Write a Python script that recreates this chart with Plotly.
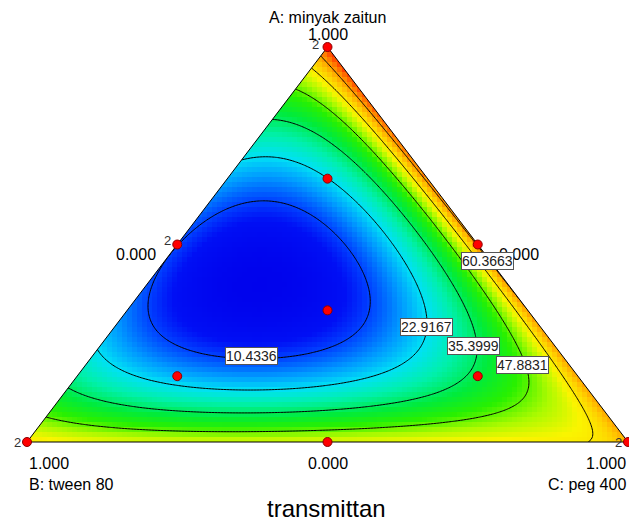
import numpy as np
import plotly.graph_objects as go

# ---------------- data ----------------
# Response (transmittan) read at mixture compositions.
# A = minyak zaitun, C = peg 400, B = tween 80 = 1 - A - C (pseudo components)
fit_A = [1.0, 0.0, 0.0,
         0.056, 0.134, 0.245, 0.35, 0.5, 0.6, 0.70, 0.80, 0.873, 0.94,
         0.145, 0.3, 0.5, 0.75,
         0.0, 0.0, 0.0, 0.0, 0.0,
         0.333, 0.41, 0.667, 0.1667, 0.1667,
         0.215, 0.129, 0.0785, 0.0354,
         0.625, 0.385, 0.233,
         0.291, 0.684, 0.175, 0.149, 0.157, 0.456,
         0.24, 0.747, 0.106, 0.081, 0.094, 0.157, 0.456,
         0.195, 0.739, 0.048, 0.0354, 0.048, 0.106, 0.456,
         0.884, 0.797, 0.456, 0.208, 0.063, 0.01,
         0.797, 0.456]
fit_C = [0.0, 0.0, 1.0,
         0, 0, 0, 0, 0, 0, 0, 0, 0, 0,
         0.855, 0.7, 0.5, 0.25,
         0.25, 0.5, 0.75, 0.85, 0.93,
         0.333, 0.2, 0.1667, 0.1667, 0.667,
         0.391, 0.434, 0.46, 0.481,
         0.141, 0.428, 0.146,
         0.52, 0.159, 0.084, 0.3, 0.52, 0.409,
         0.622, 0.127, 0.1, 0.226, 0.552, 0.647, 0.472,
         0.723, 0.2, 0.131, 0.27, 0.63, 0.762, 0.4955,
         0.073, 0.171, 0.525, 0.783, 0.917, 0.9,
         0.193, 0.536]
fit_y = [82, 58, 67,
         47.88, 35.4, 22.9, 15, 12, 14, 22.9, 35.4, 47.88, 60.37,
         72.85, 77, 80, 82,
         56, 55, 60.37, 61, 63,
         1, -2, 19, 17, 42,
         10.43, 22.9, 35.4, 47.88,
         10.43, 10.43, 10.43,
         22.9, 22.9, 22.9, 22.9, 22.9, 22.9,
         35.4, 35.4, 35.4, 35.4, 35.4, 35.4, 35.4,
         47.88, 47.88, 47.88, 47.88, 47.88, 47.88, 47.88,
         60.37, 60.37, 60.37, 60.37, 60.37, 60.37,
         72.85, 72.85]

# design points (A, B, C) and replicate counts
design_A = [1.0, 0.0, 0.0, 0.5, 0.5, 0.0, 1/3, 2/3, 1/6, 1/6]
design_B = [0.0, 1.0, 0.0, 0.5, 0.0, 0.5, 1/3, 1/6, 2/3, 1/6]
design_C = [0.0, 0.0, 1.0, 0.0, 0.5, 0.5, 1/3, 1/6, 1/6, 2/3]
replicates = [2, 2, 2, 2, 1, 1, 1, 1, 1, 1]

contour_levels = [10.4336, 22.9167, 35.3999, 47.8831, 60.3663, 72.8495]
labelled_levels = [10.4336, 22.9167, 35.3999, 47.8831, 60.3663]
label_A = [0.2177, 0.2911, 0.2430, 0.1949, 0.4582]
label_C = [0.2639, 0.5184, 0.6206, 0.7262, 0.5363]

zmin, zmax = -2.05, 88.0
col_vals = [-2.05, 6, 10.4, 17, 23, 30, 38, 45, 52, 58, 66, 73, 80, 88]
col_rgb = ['rgb(0,0,235)', 'rgb(0,15,245)', 'rgb(0,65,255)', 'rgb(0,155,255)',
           'rgb(0,225,245)', 'rgb(0,240,170)', 'rgb(0,235,60)', 'rgb(40,240,0)',
           'rgb(170,250,0)', 'rgb(250,245,0)', 'rgb(255,200,0)', 'rgb(255,155,0)',
           'rgb(255,110,0)', 'rgb(255,50,0)']

# ---------------- model ----------------
def basis(A, B, C):
    E = np.exp(-B / 0.03)
    return np.stack([A, B, C, A*B, A*C, B*C, A*B*C,
                     A*B*(A-B), A*C*(A-C), B*C*(B-C),
                     A*A*B*C, A*B*B*C, A*B*C*C, E*A, E*C], axis=-1)

fA = np.array(fit_A); fC = np.array(fit_C); fB = 1 - fA - fC
X = basis(fA, fB, fC)
lam = 1e-3
coef = np.linalg.solve(X.T @ X + lam*np.eye(X.shape[1]), X.T @ np.array(fit_y, float))

def surface(xs, ys, ext):
    XX, YY = np.meshgrid(xs, ys)
    A = YY; C = XX - YY/2; B = 1 - A - C
    ok = (A >= -ext) & (B >= -ext) & (C >= -ext)
    Ac, Bc, Cc = np.clip(A, 0, None), np.clip(B, 0, None), np.clip(C, 0, None)
    s = Ac + Bc + Cc
    Ac, Bc, Cc = Ac/s, Bc/s, Cc/s
    Z = basis(Ac, Bc, Cc) @ coef
    Z[~ok] = np.nan
    return Z

def to_xy(A, C):
    A = np.asarray(A, float); C = np.asarray(C, float)
    return C + A/2, A

# ---------------- figure ----------------
fig = go.Figure()

dx, dy = 5/601, 5/395
hx = np.arange(-2*dx, 1+2*dx, dx) + dx/2
hy = np.arange(-2*dy, 1+2*dy, dy) + dy/2
zh = surface(hx, hy, 0.03)
cs = [[(v - zmin)/(zmax - zmin), c] for v, c in zip(col_vals, col_rgb)]
fig.add_trace(go.Heatmap(x=hx, y=hy, z=zh, zmin=zmin, zmax=zmax, colorscale=cs,
                         zsmooth=False, showscale=False, hoverinfo='skip'))

cx = np.arange(-0.02, 1.02, 1.5/601)
cy = np.arange(-0.02, 1.02, 1.5/395)
zc = surface(cx, cy, 0.02)
step = contour_levels[1] - contour_levels[0]
fig.add_trace(go.Contour(x=cx, y=cy, z=zc, showscale=False, hoverinfo='skip',
                         contours=dict(start=contour_levels[0], end=contour_levels[-1],
                                       size=step, coloring='none'),
                         line=dict(color='black', width=1)))

# white mask outside triangle
mx = [0, 0.5, 0.5, -0.1, -0.1, None, 1, 0.5, 0.5, 1.1, 1.1, None, -0.1, 1.1, 1.1, -0.1]
my = [0, 1, 1.12, 1.12, 0, None, 0, 1, 1.12, 1.12, 0, None, 0, 0, -0.1, -0.1]
fig.add_trace(go.Scatter(x=mx, y=my, mode='lines', fill='toself', fillcolor='white',
                         line=dict(width=0, color='white'), hoverinfo='skip'))

# triangle outline
vx, vy = to_xy([0, 1, 0, 0], [0, 0, 1, 0])
fig.add_trace(go.Scatter(x=vx, y=vy, mode='lines', line=dict(color='black', width=1),
                         hoverinfo='skip'))

# design points
px_, py_ = to_xy(design_A, design_C)
fig.add_trace(go.Scatter(x=px_, y=py_, mode='markers', cliponaxis=False,
                         marker=dict(size=9, color='#ff0000',
                                     line=dict(color='#8b0000', width=1))))

font = 'Liberation Sans, Arial, sans-serif'
ann = []
# replicate labels
rep_shift = {0: (-12, 3), 1: (-10, 0), 2: (-10, 0), 3: (-10, 4)}
for i, r in enumerate(replicates):
    if r > 1:
        sx, sy = rep_shift[i]
        ann.append(dict(x=px_[i], y=py_[i], text=str(r), showarrow=False, xanchor='center',
                        yanchor='middle', xshift=sx, yshift=sy,
                        font=dict(family=font, size=13, color='#333333')))

# vertex / axis labels
ax_, ay_ = to_xy([1], [0]); bx_, by_ = to_xy([0], [0]); ccx, ccy = to_xy([0], [1])
ann += [
    dict(x=ax_[0], y=ay_[0], text='A: minyak zaitun', yshift=30, xanchor='center', yanchor='middle'),
    dict(x=ax_[0], y=ay_[0], text='1.000', yshift=13, xanchor='center', yanchor='middle'),
    dict(x=bx_[0], y=by_[0], text='1.000', yshift=-21, xanchor='left', yanchor='middle'),
    dict(x=bx_[0], y=by_[0], text='B: tween 80', yshift=-42, xanchor='left', yanchor='middle'),
    dict(x=ccx[0], y=ccy[0], text='1.000', yshift=-21, xanchor='right', yanchor='middle'),
    dict(x=ccx[0], y=ccy[0], text='C: peg 400', yshift=-42, xanchor='right', yanchor='middle'),
]
mbx, mby = to_xy([0], [0.5]); mlx, mly = to_xy([0.5], [0]); mrx, mry = to_xy([0.5], [0.5])
ann += [
    dict(x=mbx[0], y=mby[0], text='0.000', yshift=-21, xanchor='center', yanchor='middle'),
    dict(x=mlx[0], y=mly[0], text='0.000', xshift=-19, yshift=-10, xanchor='right', yanchor='middle'),
    dict(x=mrx[0], y=mry[0], text='0.000', xshift=19, yshift=-10, xanchor='left', yanchor='middle'),
]
for a in ann[-9:]:
    a['showarrow'] = False
    a['font'] = dict(family=font, size=16, color='#000000')

# contour labels
lx, ly = to_xy(label_A, label_C)
for v, x, y in zip(labelled_levels, lx, ly):
    ann.append(dict(x=x, y=y, text=f'{v:.4f}', showarrow=False, bgcolor='white',
                    bordercolor='#555555', borderwidth=1, borderpad=0,
                    font=dict(family=font, size=14, color='#222222')))

ann.append(dict(x=0.5, y=0.0, xref='paper', yref='paper', text='transmittan',
                showarrow=False, xanchor='center', yanchor='middle', xshift=11.5, yshift=14,
                font=dict(family=font, size=24, color='#000000')))

fig.update_layout(
    width=629, height=522, margin=dict(l=0, r=0, t=0, b=0),
    paper_bgcolor='white', plot_bgcolor='white', showlegend=False,
    xaxis=dict(range=[-27/601, 602/601], visible=False, fixedrange=True),
    yaxis=dict(range=[-80/395, 1 + 47/395], visible=False, fixedrange=True),
    annotations=ann,
)
fig.write_html('out.html', config={'displayModeBar': False},
               post_script="document.body.style.margin='0px';document.body.style.overflow='hidden';")
